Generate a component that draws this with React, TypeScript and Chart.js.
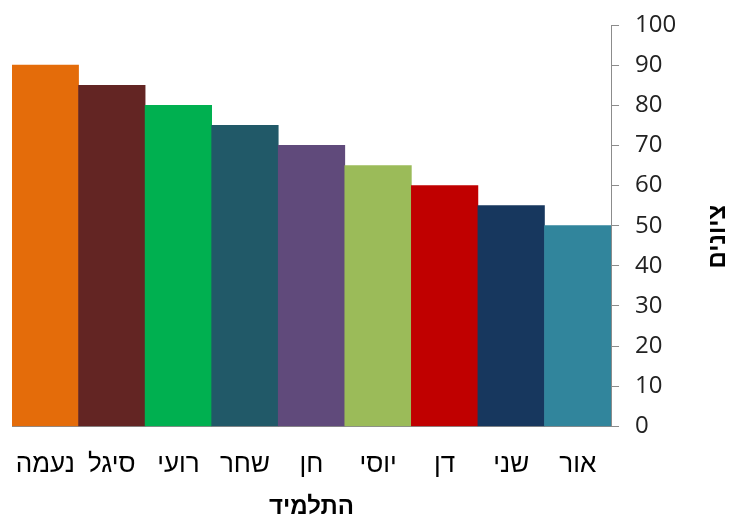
import React, { useEffect, useRef } from "react";
import { Chart, registerables } from "chart.js";

Chart.register(...registerables);

const students = ["נעמה", "סיגל", "רועי", "שחר", "חן", "יוסי", "דן", "שני", "אור"];
const grades = [90, 85, 80, 75, 70, 65, 60, 55, 50];
const barColors = ["#E46C0A", "#632523", "#00B050", "#215968", "#604A7B", "#9BBB59", "#C00000", "#17375E", "#31859C"];
const xTitle = "התלמיד";
const yTitle = "ציונים";
const yMin = 0;
const yMax = 100;
const yStep = 10;

const FONT = "'Liberation Sans', 'DejaVu Sans', sans-serif";
const NUM_FONT = "'Open Sans', 'Liberation Sans', sans-serif";

const yTitlePlugin = {
  id: "yTitleRotated",
  afterDraw(chart: any) {
    const { ctx, chartArea } = chart;
    ctx.save();
    ctx.font = `bold 24px ${FONT}`;
    ctx.fillStyle = "#000";
    ctx.textAlign = "center";
    ctx.textBaseline = "middle";
    ctx.translate(chart.width - 15, (chartArea.top + chartArea.bottom) / 2 + 11);
    ctx.rotate(-Math.PI / 2);
    ctx.fillText(yTitle, 0, 0);
    ctx.restore();
  },
};

export default function App() {
  const ref = useRef<HTMLCanvasElement | null>(null);
  useEffect(() => {
    document.body.style.margin = "0";
    const chart = new Chart(ref.current as HTMLCanvasElement, {
      type: "bar",
      data: {
        labels: students,
        datasets: [
          {
            data: grades,
            backgroundColor: barColors,
            borderWidth: 0,
            barPercentage: 1,
            categoryPercentage: 1,
          },
        ],
      },
      options: {
        responsive: false,
        animation: false,
        layout: { padding: { left: 12, top: 25, right: 0, bottom: -3 } },
        plugins: { legend: { display: false }, tooltip: { enabled: false } },
        scales: {
          x: {
            grid: { display: false },
            border: { display: true, color: "#8c8c8c", width: 1 },
            ticks: { color: "#000", font: { family: FONT, size: 26, lineHeight: 2.1 }, padding: 3, maxRotation: 0, autoSkip: false },
            title: { display: true, text: xTitle, color: "#000", font: { family: FONT, size: 24, weight: "bold", lineHeight: 1.0 }, padding: { top: 0, bottom: 0 } },
          },
          y: {
            position: "right",
            min: yMin,
            max: yMax,
            ticks: { stepSize: yStep, color: "#222", font: { family: NUM_FONT, size: 24, lineHeight: 0.5 }, padding: 16 },
            grid: { drawOnChartArea: false, tickLength: 8, color: "#8c8c8c" },
            border: { display: true, color: "#8c8c8c", width: 1 },
            title: { display: true, text: yTitle, color: "rgba(0,0,0,0)", font: { family: FONT, size: 24, weight: "bold" }, padding: { top: 6, bottom: 6 } },
          },
        },
      },
      plugins: [yTitlePlugin],
    } as any);
    return () => chart.destroy();
  }, []);
  return (
    <div style={{ width: 733, height: 516 }}>
      <canvas ref={ref} width={733} height={516} />
    </div>
  );
}
